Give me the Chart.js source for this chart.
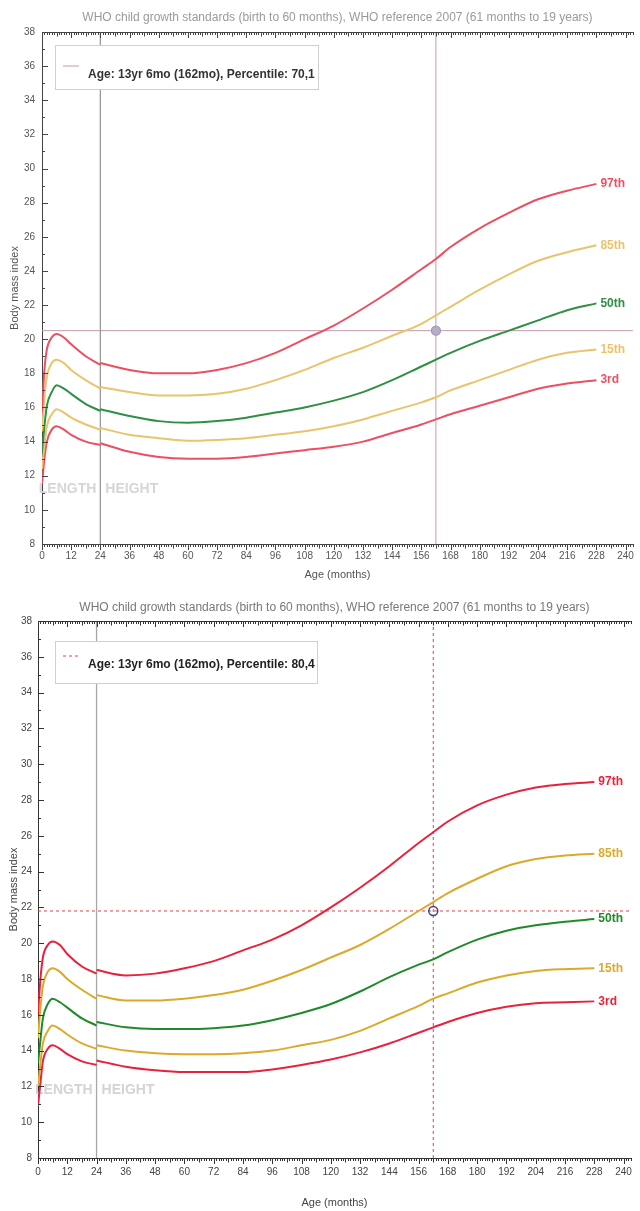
<!DOCTYPE html>
<html>
<head>
<meta charset="utf-8">
<script src="https://cdn.jsdelivr.net/npm/chart.js@4.4.0/dist/chart.umd.min.js"></script>
<style>
  html, body { margin: 0; padding: 0; background: #fff; }
  #wrap { position: relative; width: 640px; height: 1211px; overflow: hidden; }
  .box { position: absolute; left: 0; width: 640px; }
</style>
</head>
<body>
<div id="wrap">
  <div class="box" style="top:0;height:590px"><canvas id="chartTop"></canvas></div>
  <div class="box" style="top:590px;height:621px"><canvas id="chartBottom"></canvas></div>
</div>
<script>
const FONT = '"Liberation Sans Narrow", "Arial Narrow", "Liberation Sans", Arial, sans-serif';
Chart.defaults.font.family = FONT;

// age in months; 24 is listed twice (end of length curves, start of height curves)
const months = [0, 1, 2, 4, 6, 9, 12, 18, 24,
  24, 36, 48, 60, 72, 84, 96, 108, 120, 132, 144, 156, 162, 168, 180, 192, 204, 216, 228];
const gapAt = 9;

const percentileLabels = ['97th', '85th', '50th', '15th', '3rd'];
const xTickLabels = [0, 12, 24, 36, 48, 60, 72, 84, 96, 108, 120, 132, 144, 156, 168, 180, 192, 204, 216, 228, 240];
const yTickLabels = [8, 10, 12, 14, 16, 18, 20, 22, 24, 26, 28, 30, 32, 34, 36, 38];
const xMax = 243;

const chartTitle = 'WHO child growth standards (birth to 60 months), WHO reference 2007 (61 months to 19 years)';

// upper chart
const topP97 = [15.8, 18.2, 19.4, 20.1, 20.3, 20.1, 19.7, 19.0, 18.5,
  18.6, 18.2, 18.0, 18.0, 18.2, 18.6, 19.2, 20.0, 20.8, 21.8, 22.9, 24.1, 24.7, 25.4, 26.5, 27.4, 28.2, 28.7, 29.1];
const topP85 = [14.6, 16.6, 17.8, 18.6, 18.8, 18.6, 18.2, 17.6, 17.1,
  17.2, 16.9, 16.7, 16.7, 16.8, 17.1, 17.6, 18.2, 18.9, 19.5, 20.2, 20.9, 21.4, 21.9, 22.9, 23.8, 24.6, 25.1, 25.5];
const topP50 = [13.4, 14.9, 16.1, 16.9, 17.3, 17.1, 16.8, 16.2, 15.8,
  15.9, 15.5, 15.2, 15.1, 15.2, 15.4, 15.7, 16.0, 16.4, 16.9, 17.6, 18.4, 18.8, 19.2, 19.9, 20.5, 21.1, 21.7, 22.1];
const topP15 = [12.4, 13.8, 14.9, 15.6, 15.9, 15.7, 15.4, 15.0, 14.7,
  14.8, 14.4, 14.2, 14.05, 14.1, 14.2, 14.4, 14.6, 14.9, 15.3, 15.8, 16.3, 16.6, 17.0, 17.6, 18.2, 18.8, 19.2, 19.4];
const topP3 = [11.5, 13.0, 14.0, 14.7, 14.9, 14.7, 14.4, 14.0, 13.8,
  13.9, 13.4, 13.1, 13.0, 13.0, 13.1, 13.3, 13.5, 13.7, 14.0, 14.5, 15.0, 15.3, 15.6, 16.1, 16.6, 17.1, 17.4, 17.6];
const topAge = 162;
const topBmi = 20.5;
const topLegend = 'Age: 13yr 6mo (162mo), Percentile: 70,1';

// lower chart
const botP97 = [16.1, 18.0, 19.2, 19.9, 20.1, 19.9, 19.4, 18.7, 18.3,
  18.5, 18.2, 18.3, 18.6, 19.0, 19.6, 20.2, 21.0, 22.0, 23.1, 24.3, 25.6, 26.2, 26.8, 27.7, 28.3, 28.7, 28.9, 29.0];
const botP85 = [14.7, 16.4, 17.6, 18.4, 18.6, 18.4, 18.0, 17.4, 16.9,
  17.1, 16.8, 16.8, 16.9, 17.1, 17.4, 17.9, 18.5, 19.2, 19.9, 20.8, 21.8, 22.3, 22.8, 23.6, 24.3, 24.7, 24.9, 25.0];
const botP50 = [13.3, 14.6, 15.8, 16.6, 16.9, 16.7, 16.4, 15.8, 15.4,
  15.6, 15.3, 15.2, 15.2, 15.25, 15.4, 15.7, 16.1, 16.6, 17.3, 18.1, 18.8, 19.1, 19.5, 20.2, 20.7, 21.0, 21.2, 21.35];
const botP15 = [12.0, 13.3, 14.4, 15.1, 15.4, 15.2, 14.9, 14.4, 14.1,
  14.3, 14.0, 13.85, 13.8, 13.8, 13.85, 14.0, 14.3, 14.6, 15.1, 15.8, 16.5, 16.9, 17.2, 17.8, 18.2, 18.45, 18.55, 18.6];
const botP3 = [10.9, 12.2, 13.4, 14.1, 14.3, 14.1, 13.8, 13.4, 13.2,
  13.45, 13.1, 12.9, 12.8, 12.8, 12.8, 12.95, 13.2, 13.5, 13.9, 14.4, 15.0, 15.3, 15.6, 16.1, 16.45, 16.65, 16.7, 16.75];
const botAge = 162;
const botBmi = 21.8;
const botLegend = 'Age: 13yr 6mo (162mo), Percentile: 80,4';

function curve(vals) {
  const pts = [];
  months.forEach((m, i) => {
    if (i === gapAt) pts.push({ x: m, y: null }); // break between length and height
    pts.push({ x: m, y: vals[i] });
  });
  return pts;
}

// title, ticks, legend box, end labels, LENGTH | HEIGHT
function decor(o) {
  return {
    id: 'decor',
    beforeDatasetsDraw(chart) {
      const { ctx, chartArea: a, scales: { x, y } } = chart;
      const px = x.getPixelForValue(24);
      const py = y.getPixelForValue(o.splitBmi);
      ctx.save();
      // title centred over the plot area
      ctx.font = '12px ' + FONT;
      ctx.fillStyle = o.titleColor;
      ctx.textAlign = 'center';
      ctx.textBaseline = 'middle';
      ctx.fillText(chartTitle, (a.left + a.right) / 2, 18);

      ctx.font = 'bold 14px ' + FONT;
      ctx.fillStyle = o.splitText;
      ctx.textAlign = 'right';
      ctx.fillText('LENGTH', px - 4, py);
      ctx.textAlign = 'left';
      ctx.fillText('HEIGHT', px + 5, py);
      ctx.restore();
    },
    afterDatasetsDraw(chart) {
      const { ctx, chartArea: a } = chart;
      ctx.save();
      // percentile names at the end of each curve
      ctx.font = 'bold 12px ' + FONT;
      ctx.textBaseline = 'middle';
      ctx.textAlign = 'left';
      percentileLabels.forEach((lab, i) => {
        const meta = chart.getDatasetMeta(i);
        const pt = meta.data[meta.data.length - 1];
        ctx.fillStyle = o.colors[i];
        ctx.fillText(lab, pt.x + 4, pt.y);
      });
      // legend box
      const [bx, by, bw, bh] = [a.left + o.box[0], a.top + o.box[1], o.box[2], o.box[3]];
      ctx.fillStyle = '#fff';
      ctx.fillRect(bx, by, bw, bh);
      ctx.strokeStyle = '#cfcfcf';
      ctx.lineWidth = 1;
      ctx.strokeRect(bx + 0.5, by + 0.5, bw, bh);
      ctx.strokeStyle = o.crossColor;
      ctx.setLineDash(o.dash);
      ctx.beginPath();
      ctx.moveTo(bx + 8, by + o.box[4]);
      ctx.lineTo(bx + 24, by + o.box[4]);
      ctx.stroke();
      ctx.setLineDash([]);
      ctx.fillStyle = o.legendColor;
      ctx.font = 'bold 12px ' + FONT;
      ctx.fillText(o.legend, bx + 33, by + o.box[5]);
      ctx.restore();
    },
    afterDraw(chart) {
      const { ctx, chartArea: a, scales: { x, y } } = chart;
      ctx.save();
      ctx.strokeStyle = o.axisColor;
      ctx.lineWidth = 1;
      ctx.beginPath();
      for (let m = 0; m <= xMax; m++) {
        const px = Math.round(x.getPixelForValue(m)) + 0.5;
        const len = m % 12 === 0 ? 6 : (m % 6 === 0 ? 4.5 : 3);
        ctx.moveTo(px, a.bottom);
        ctx.lineTo(px, a.bottom + len);
        ctx.moveTo(px, a.top);
        ctx.lineTo(px, a.top + len);
      }
      for (let v = y.min; v <= y.max; v++) {
        const py = Math.round(y.getPixelForValue(v)) + 0.5;
        const len = v % 2 === 0 ? 6 : 3;
        ctx.moveTo(a.left, py);
        ctx.lineTo(a.left + len, py);
      }
      ctx.moveTo(a.left, Math.round(a.top) + 0.5);
      ctx.lineTo(a.right, Math.round(a.top) + 0.5);
      ctx.stroke();
      ctx.restore();
    }
  };
}

function buildChart(id, o) {
  const yMin = yTickLabels[0];
  const yMax = yTickLabels[yTickLabels.length - 1];
  const curves = o.series.map((vals, i) => ({
    type: 'line',
    label: percentileLabels[i],
    data: curve(vals),
    borderColor: o.colors[i],
    borderWidth: o.lineWidth,
    pointRadius: 0,
    cubicInterpolationMode: 'monotone',
    spanGaps: false,
    order: 1
  }));
  const guides = [
    { data: [{ x: 24, y: yMin }, { x: 24, y: yMax }], borderColor: o.splitColor, borderWidth: 1.3 },
    { data: [{ x: o.age, y: yMin }, { x: o.age, y: yMax }], borderColor: o.crossColor, borderDash: o.dash, borderWidth: 1 },
    { data: [{ x: 0, y: o.bmi }, { x: xMax, y: o.bmi }], borderColor: o.crossColor, borderDash: o.dash, borderWidth: 1 }
  ].map(d => ({ ...d, type: 'line', pointRadius: 0, tension: 0, order: 2 }));
  const marker = {
    type: 'scatter',
    data: [{ x: o.age, y: o.bmi }],
    pointRadius: 4.5,
    pointBorderWidth: 1.4,
    pointBorderColor: o.markerColor,
    pointBackgroundColor: o.markerFill,
    order: 0
  };

  return new Chart(document.getElementById(id), {
    type: 'line',
    data: { datasets: [...curves, ...guides, marker] },
    options: {
      responsive: true,
      maintainAspectRatio: false,
      animation: false,
      layout: { padding: { left: 0, right: 3, top: o.plotTop, bottom: 0 } },
      plugins: {
        legend: { display: false },
        tooltip: { enabled: false },
        title: { display: false }
      },
      scales: {
        x: {
          type: 'linear',
          min: 0,
          max: xMax,
          afterBuildTicks: s => { s.ticks = xTickLabels.map(v => ({ value: v })); },
          ticks: { color: o.tickColor, font: { size: 10 }, padding: o.xLabelPad, maxRotation: 0, autoSkip: false },
          grid: { display: true, drawOnChartArea: false, drawTicks: false },
          border: { color: o.axisColor, width: 1 },
          title: { display: true, text: 'Age (months)', color: o.tickColor, font: { size: 11 }, padding: { top: 0, bottom: o.xTitlePad } },
          afterFit: s => { s.height = o.xAxisHeight; }
        },
        y: {
          min: yMin,
          max: yMax,
          afterBuildTicks: s => { s.ticks = yTickLabels.map(v => ({ value: v })); },
          ticks: { color: o.tickColor, font: { size: 10 }, padding: o.yLabelPad },
          grid: { display: true, drawOnChartArea: false, drawTicks: false },
          border: { color: o.axisColor, width: 1 },
          title: { display: true, text: 'Body mass index', color: o.tickColor, font: { size: 11 }, padding: { top: o.yTitlePad, bottom: 0 } },
          afterFit: s => { s.width = o.yAxisWidth; }
        }
      }
    },
    plugins: [decor(o)]
  });
}

buildChart('chartTop', {
  series: [topP97, topP85, topP50, topP15, topP3],
  colors: ['#ec4f62', '#e9c46c', '#2f8f42', '#e9c46c', '#ec4f62'],
  lineWidth: 2,
  age: topAge, bmi: topBmi, legend: topLegend,
  crossColor: '#c49aac', dash: [], splitColor: '#9a9a9a',
  markerColor: '#a49ab8', markerFill: '#b6aec8',
  splitText: '#d6d6d6', splitBmi: 11.2,
  titleColor: '#9a9a9a', tickColor: '#555', axisColor: '#444', legendColor: '#333',
  plotTop: 32, xAxisHeight: 46, xLabelPad: 6, xTitlePad: 8, yAxisWidth: 42, yLabelPad: 7, yTitlePad: 8,
  box: [13, 13, 263, 44, 21, 30]
});

buildChart('chartBottom', {
  series: [botP97, botP85, botP50, botP15, botP3],
  colors: ['#e8213c', '#dcaa2a', '#1f8a2a', '#dcaa2a', '#e8213c'],
  lineWidth: 2,
  age: botAge, bmi: botBmi, legend: botLegend,
  crossColor: '#e0404e', dash: [3, 3], splitColor: '#a8a8a8',
  markerColor: '#3b3b8c', markerFill: 'rgba(255,255,255,0)',
  splitText: '#d4d4d4', splitBmi: 11.8,
  titleColor: '#777', tickColor: '#444', axisColor: '#333', legendColor: '#222',
  plotTop: 31, xAxisHeight: 53, xLabelPad: 8, xTitlePad: 1.5, yAxisWidth: 38, yLabelPad: 6, yTitlePad: 7,
  box: [17, 20, 262, 42, 15, 24]
});
</script>
</body>
</html>
